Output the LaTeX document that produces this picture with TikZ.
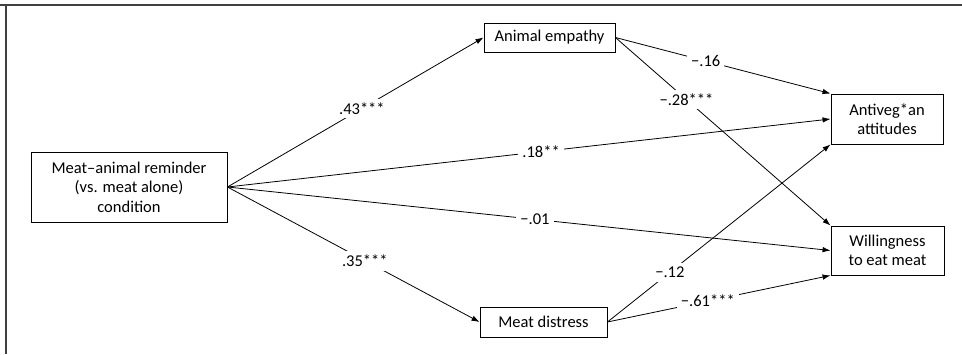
\documentclass[tikz,border=0pt]{standalone}
\usepackage{fontspec}
\setmainfont{Carlito}
\usetikzlibrary{positioning}
\usetikzlibrary{arrows.meta}
\tikzset{%
  r/.style = {rectangle,draw,solid,line width=0.9pt,align=center,
        inner sep=0pt,font=\fontsize{16.5}{19.5}\selectfont},
  effarrow/.style = {-{Latex[length=8pt,width=5.5pt]},line width=0.8pt},
  coef/.style = {fill=white,inner sep=4pt,
        font=\fontsize{16.5}{19.5}\selectfont}
}

\begin{document}
\begin{tikzpicture}[x=1pt,y=-1pt]
                \useasboundingbox (0,0) rectangle (962,354);
                \draw[line width=1.6pt,black!75] (0,5) -- (962,5) (6,5) -- (6,354);
                \node[r,minimum width=196pt,minimum height=70pt] (cond) at (129,187) {Meat–animal reminder\\(vs. meat alone)\\condition};
                \node[r,minimum width=131pt,minimum height=29pt] (emp) at (549.5,37.5) {Animal empathy};
                \node[r,minimum width=127pt,minimum height=30pt] (dist) at (543.5,322) {Meat distress};
                \node[r,minimum width=112pt,minimum height=50pt] (anti) at (887,119) {Antiveg*an\\attitudes};
                \node[r,minimum width=113pt,minimum height=49pt] (will) at (887.5,250.5) {Willingness\\to eat meat};
                \path[effarrow] (cond.east) edge node[coef,pos=0.525] {.43***} (emp.west)
                          (cond.east) edge node[coef,pos=0.52] {.18**} (anti.west)
                          (cond.east) edge node[coef,pos=0.51] {−.01} (will.west)
                          (cond.east) edge node[coef,pos=0.545] {.35***} (dist.west)
                          (emp.east) edge node[coef,pos=0.42] {−.16} (anti.north west)
                          (emp.east) edge node[coef,pos=0.33] {−.28***} (will.north west)
                          (dist.east) edge node[coef,pos=0.28] {−.12} (anti.south west)
                          (dist.east) edge node[coef,pos=0.45] {−.61***} (will.south west);
            \end{tikzpicture}
\end{document}
